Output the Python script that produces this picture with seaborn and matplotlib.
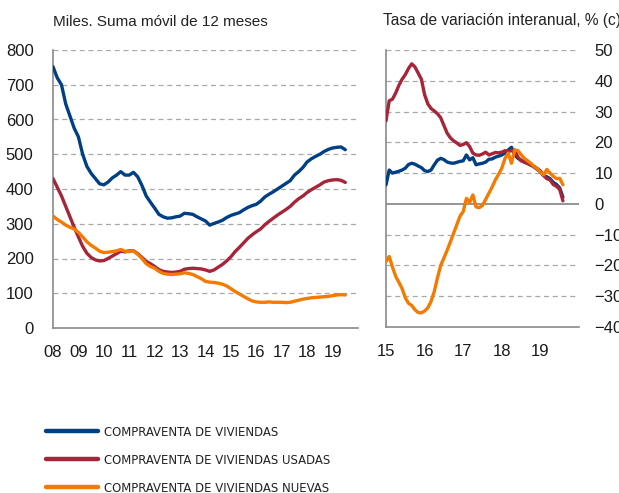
import numpy as np
import pandas as pd
import matplotlib
matplotlib.use("Agg")
import matplotlib.pyplot as plt
from matplotlib import font_manager
import seaborn as sns

# ---------------- data ----------------
# Left panel: thousands, 12-month moving sum (bimonthly readings, Jan 2008 - Jul 2019)
total_level = [752, 720, 700, 645, 610, 575, 550, 500, 465, 445, 430, 415,
               412, 420, 432, 440, 450, 440, 440, 448, 435, 410, 380, 362,
               345, 327, 320, 316, 317, 320, 322, 330, 329, 327, 320, 314,
               308, 296, 301, 305, 310, 318, 324, 328, 332, 340, 347, 352,
               356, 365, 377, 385, 392, 400, 408, 416, 424, 440, 450, 462,
               478, 487, 494, 500, 508, 514, 518, 520, 521, 513]
used_level = [430, 405, 380, 350, 320, 290, 262, 235, 215, 203, 196, 193,
              194, 200, 207, 214, 221, 219, 222, 222, 214, 203, 192, 185,
              177, 168, 163, 161, 160, 161, 163, 169, 171, 172, 171, 170,
              167, 163, 167, 175, 183, 193, 205, 220, 232, 245, 258, 268,
              277, 285, 297, 307, 316, 325, 333, 341, 350, 362, 372, 380,
              390, 398, 405, 412, 420, 424, 426, 427, 425, 419]
new_level = [322, 312, 305, 296, 290, 285, 275, 262, 248, 238, 230, 221,
             217, 218, 220, 222, 226, 221, 220, 222, 212, 200, 185, 177,
             172, 163, 157, 155, 154, 155, 156, 159, 157, 154, 148, 142,
             134, 132, 131, 129, 126, 121, 113, 105, 98, 91, 84, 78,
             75, 74, 74, 75, 74, 74, 74, 73, 74, 77, 80, 83,
             85, 87, 88, 89, 90, 91, 93, 95, 96, 95]

# Right panel: year-on-year rate, % (monthly, Jan 2015 - Aug 2019)
total_yoy = [6.2, 11, 10, 10.3, 10.6, 11, 11.6, 12.8, 13.2, 12.9, 12.3, 11.8,
             10.8, 10.5, 11, 12.7, 14.2, 14.8, 14.4, 13.6, 13.3, 13.2, 13.5, 13.8,
             14, 15.9, 14.3, 15.0, 12.7, 13, 13.2, 13.6, 14.5, 14.6, 15.2, 15.5,
             15.9, 16.5, 17.5, 18.4, 15.9, 14.8, 14.2, 13.6, 13.2, 12.7, 12, 11.2,
             10.4, 9.2, 8.8, 8.2, 7, 6.3, 5.2, 2.2]
used_yoy = [27, 33.5, 34, 36, 38.5, 40.5, 42, 44, 45.5, 44.5, 42.5, 40.5,
            35.5, 32.5, 31, 30.2, 29.3, 28, 25.5, 23, 21.5, 20.5, 19.8, 19,
            19.3, 19.9, 18.6, 16.5, 15.9, 15.8, 16.2, 16.8, 15.9, 16.3, 16.7, 16.6,
            16.8, 17.3, 17, 17.3, 17.5, 15.2, 14, 13.6, 13.1, 12.6, 12.2, 11.5,
            10.7, 9.2, 8.2, 7.8, 6.3, 5.7, 4.7, 1.0]
new_yoy = [-18.7, -17.1, -20.5, -23.5, -25.5, -27.5, -30.5, -32.3, -33, -34.4, -35.3, -35.4,
           -34.8, -33.8, -31.7, -28.5, -24, -20, -17.6, -15.1, -12.4, -9.6, -6.8, -4.0,
           -2.5, 1.8, 0.5, 2.9, -1.0, -1.2, -0.5, 1.5, 3.5, 5.5, 7.8, 9.6,
           11.6, 14.8, 16.5, 13.2, 17.5, 17.3, 16, 14.8, 14, 13.2, 12.2, 11.4,
           10.3, 9.4, 11.2, 10, 9, 8.2, 8.3, 6.2]

series_names = ["COMPRAVENTA DE VIVIENDAS",
                "COMPRAVENTA DE VIVIENDAS USADAS",
                "COMPRAVENTA DE VIVIENDAS NUEVAS"]
colors = ["#003F84", "#A62538", "#F47A00"]

left_ticklabels = ["08", "09", "10", "11", "12", "13", "14", "15", "16", "17", "18", "19"]
right_ticklabels = ["15", "16", "17", "18", "19"]
left_yticks = [0, 100, 200, 300, 400, 500, 600, 700, 800]
right_yticks = [-40, -30, -20, -10, 0, 10, 20, 30, 40, 50]

title_left = "Miles. Suma móvil de 12 meses"
title_right = "Tasa de variación interanual, % (c)"

# ---------------- build tables ----------------
d_left = pd.date_range("2008-01-01", periods=len(total_level), freq="2MS")
t_left = d_left.year + (d_left.month - 1) / 12.0
d_right = pd.date_range("2015-01-01", periods=len(total_yoy), freq="MS")
t_right = d_right.year + (d_right.month - 1) / 12.0

df_left = pd.concat([
    pd.DataFrame({"t": t_left, "v": vals, "serie": name})
    for vals, name in zip([total_level, used_level, new_level], series_names)
])
df_right = pd.concat([
    pd.DataFrame({"t": t_right, "v": vals, "serie": name})
    for vals, name in zip([total_yoy, used_yoy, new_yoy], series_names)
])

# ---------------- style ----------------
sns.set_style("white")
plt.rcParams["font.family"] = ["Liberation Sans", "DejaVu Sans"]

W, H = 619, 493
fig = plt.figure(figsize=(W / 100, H / 100), dpi=100)

def fx(px):
    return px / W

def fy(py):
    return 1 - py / H

axL = fig.add_axes([fx(53), fy(328), fx(358) - fx(53), fy(50) - fy(328)])
axR = fig.add_axes([fx(386), fy(327), fx(579) - fx(386), fy(50) - fy(327)])

palette = dict(zip(series_names, colors))
grid_c = "#A8A8A8"
spine_c = "#8A8A8A"
lw = 2.4

sns.lineplot(data=df_left, x="t", y="v", hue="serie", palette=palette,
             linewidth=lw, ax=axL, legend=False, zorder=3)
sns.lineplot(data=df_right, x="t", y="v", hue="serie", palette=palette,
             linewidth=lw, ax=axR, legend=False, zorder=3)

# left axis
axL.set_xlim(2008, 2020)
axL.set_ylim(0, 800)
axL.set_yticks(left_yticks)
axL.set_xticks(list(range(2008, 2021)))
axL.set_xticklabels(left_ticklabels + [""])
for y in left_yticks[1:]:
    axL.axhline(y, color=grid_c, lw=0.9, ls=(0, (4, 3)), zorder=1)

# right axis
axR.set_xlim(2015, 2020)
axR.set_ylim(-40, 50)
axR.set_yticks(right_yticks)
axR.set_xticks(list(range(2015, 2021)))
axR.set_xticklabels(right_ticklabels + [""])
axR.yaxis.tick_right()
for y in right_yticks:
    if y == 0:
        axR.axhline(y, color="#8C8C8C", lw=1.3, zorder=2)
    elif y != -40:
        axR.axhline(y, color=grid_c, lw=0.9, ls=(0, (4, 3)), zorder=1)

for ax in (axL, axR):
    ax.set_xlabel("")
    ax.set_ylabel("")
    for s in ("top", "right"):
        ax.spines[s].set_visible(False)
    for s in ("left", "bottom"):
        ax.spines[s].set_color(spine_c)
        ax.spines[s].set_linewidth(1.2)
    ax.tick_params(axis="x", direction="in", length=4, width=1.0, color=spine_c,
                   labelsize=12, pad=12, labelcolor="#1a1a1a")
    ax.tick_params(axis="y", length=0, labelsize=12, labelcolor="#1a1a1a")
    ax.set_facecolor("none")

axL.tick_params(axis="y", pad=14)
axR.tick_params(axis="y", pad=11)

# titles
fig.text(fx(53), fy(22), title_left, fontsize=11.0, ha="left", va="center", color="#222222")
fig.text(fx(383), fy(20), title_right, fontsize=11.2, ha="left", va="center", color="#222222")

# legend (condensed face)
leg_prop = font_manager.FontProperties(family="DejaVu Sans", stretch="condensed", size=9.4)
handles = [plt.Line2D([], [], color=c, lw=3.2) for c in colors]
fig.legend(handles, series_names, loc="upper left",
           bbox_to_anchor=(fx(46), fy(426)), frameon=False, borderpad=0,
           borderaxespad=0, handlelength=4.0, handletextpad=0.45,
           labelspacing=1.15, prop=leg_prop, labelcolor="#222222")

fig.savefig("out.png", dpi=100)
